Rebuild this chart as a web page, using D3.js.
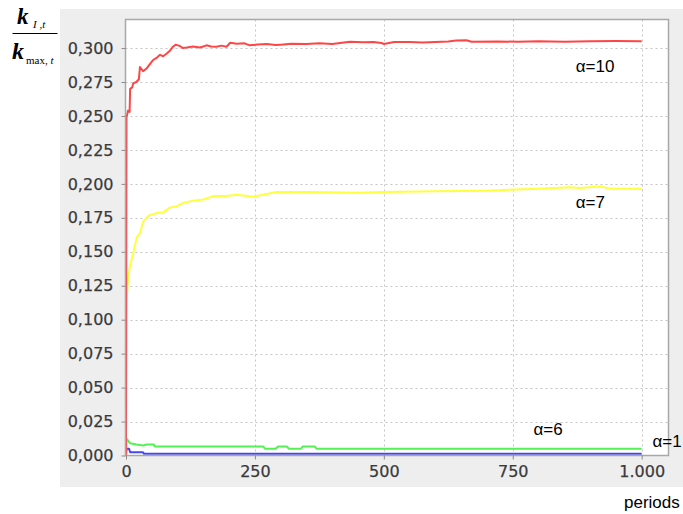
<!DOCTYPE html>
<html>
<head>
<meta charset="utf-8">
<script src="https://cdn.jsdelivr.net/npm/d3@7/dist/d3.min.js"></script>
<style>
  html, body { margin: 0; padding: 0; background: #ffffff; }
  svg { display: block; }
</style>
</head>
<body>
<svg id="chart" width="683" height="514"></svg>
<script>
// Share of the leading agent's capital relative to the maximum, per period
const redPeriods = [0, 1, 4, 7, 8, 12, 14, 20, 25, 27, 33, 40, 46, 52, 60, 66, 72, 79, 85, 91, 96, 101, 106, 110, 118, 130, 143, 150, 156, 165, 175, 185, 195, 202, 215, 230, 240, 255, 273, 290, 300, 320, 350, 375, 400, 434, 460, 480, 495, 500, 520, 550, 575, 600, 625, 640, 660, 670, 720, 760, 800, 850, 900, 950, 1000];
const redValues  = [0, 0.249, 0.254, 0.253, 0.270, 0.271, 0.274, 0.275, 0.277, 0.286, 0.283, 0.285, 0.288, 0.291, 0.293, 0.295, 0.294, 0.296, 0.298, 0.301, 0.3025, 0.302, 0.3012, 0.300, 0.3004, 0.3012, 0.3004, 0.3012, 0.302, 0.3012, 0.301, 0.3018, 0.301, 0.3039, 0.3032, 0.3035, 0.302, 0.3026, 0.303, 0.3022, 0.3025, 0.3031, 0.303, 0.3036, 0.303, 0.3046, 0.3042, 0.3045, 0.3038, 0.303, 0.3045, 0.3045, 0.3041, 0.3045, 0.3049, 0.3055, 0.3058, 0.3047, 0.3049, 0.3046, 0.305, 0.3047, 0.305, 0.3052, 0.305];

const yellowPeriods = [0, 1, 4, 8, 14, 21, 27, 33, 40, 46, 60, 72, 85, 98, 111, 130, 150, 169, 195, 214, 227, 247, 266, 292, 357, 450, 500, 600, 700, 800, 860, 880, 918, 940, 1000];
const yellowValues  = [0, 0.114, 0.130, 0.140, 0.149, 0.161, 0.1635, 0.172, 0.175, 0.177, 0.1785, 0.179, 0.1825, 0.1835, 0.186, 0.1875, 0.1885, 0.191, 0.191, 0.192, 0.1915, 0.1906, 0.192, 0.194, 0.194, 0.1935, 0.194, 0.1945, 0.195, 0.1965, 0.1975, 0.197, 0.198, 0.1965, 0.1965];

const greenPeriods = [0, 1, 4, 8, 20, 33, 40, 54, 56, 266, 270, 290, 295, 312, 316, 339, 343, 366, 370, 1000];
const greenValues  = [0, 0.0125, 0.011, 0.009, 0.0081, 0.0074, 0.0081, 0.0081, 0.0066, 0.0066, 0.0049, 0.0049, 0.0066, 0.0066, 0.0049, 0.0049, 0.0066, 0.0066, 0.0049, 0.0049];

const bluePeriods = [0, 1, 6, 8, 33, 35, 1000];
const blueValues  = [0, 0.0049, 0.0049, 0.0024, 0.0024, 0.0012, 0.0012];

// Axis ticks
const yTicks = [0, 0.025, 0.05, 0.075, 0.1, 0.125, 0.15, 0.175, 0.2, 0.225, 0.25, 0.275, 0.3];
const xTicks = [0, 250, 500, 750, 1000];

// Curve annotations: text, anchor period, anchor value
const labelTexts   = ["α=10", "α=7", "α=6", "α=1"];
const labelPeriods = [872, 872, 790, 1021];
const labelValues  = [0.2823, 0.1822, 0.0151, 0.0063];

const svg = d3.select("#chart");

// Panel background
svg.append("rect")
  .attr("x", 60).attr("y", 9).attr("width", 623).attr("height", 478)
  .attr("fill", "#eeeeee");

const plot = { left: 125.5, right: 668.5, top: 19.5, bottom: 455.5 };

const x = d3.scaleLinear().domain([0, 1052]).range([126, 668.5]);
const y = d3.scaleLinear().domain([0, 0.3214]).range([455.5, 19]);

svg.append("rect")
  .attr("x", plot.left).attr("y", plot.top)
  .attr("width", plot.right - plot.left).attr("height", plot.bottom - plot.top)
  .attr("fill", "#ffffff");

// Grid
const grid = svg.append("g").attr("stroke", "#c4c4c4").attr("stroke-width", 1).attr("stroke-dasharray", "2,3");
grid.selectAll("line.h").data(yTicks.filter(d => d > 0)).join("line")
  .attr("class", "h")
  .attr("x1", plot.left).attr("x2", plot.right)
  .attr("y1", d => Math.round(y(d)) + 0.5).attr("y2", d => Math.round(y(d)) + 0.5);
grid.selectAll("line.v").data(xTicks.filter(d => d > 0)).join("line")
  .attr("class", "v")
  .attr("y1", plot.top).attr("y2", plot.bottom)
  .attr("x1", d => Math.round(x(d)) + 0.5).attr("x2", d => Math.round(x(d)) + 0.5);

// Series
svg.append("clipPath").attr("id", "clip").append("rect")
  .attr("x", plot.left).attr("y", plot.top)
  .attr("width", plot.right - plot.left).attr("height", plot.bottom - plot.top);

const series = [
  { p: bluePeriods, v: blueValues, color: "#4646f0" },
  { p: greenPeriods, v: greenValues, color: "#55f055" },
  { p: yellowPeriods, v: yellowValues, color: "#ffff3c" },
  { p: redPeriods, v: redValues, color: "#ff4646" }
];

const line = d3.line().x(d => x(d[0])).y(d => y(d[1]));
const lines = svg.append("g").attr("clip-path", "url(#clip)");
series.forEach(s => {
  lines.append("path")
    .datum(s.p.map((p, i) => [p, s.v[i]]))
    .attr("fill", "none")
    .attr("stroke", s.color)
    .attr("stroke-width", 2)
    .attr("stroke-linejoin", "round")
    .attr("d", line);
});

// Plot border
svg.append("rect")
  .attr("x", plot.left).attr("y", plot.top)
  .attr("width", plot.right - plot.left).attr("height", plot.bottom - plot.top)
  .attr("fill", "none").attr("stroke", "#a8a8a8").attr("stroke-width", 1.5);

// Axes
const fmtY = v => d3.format(".3f")(v).replace(".", ",");
const fmtX = v => d3.format(",")(v).replace(/,/g, ".");

const yAxis = svg.append("g")
  .attr("transform", `translate(${plot.left},0)`)
  .call(d3.axisLeft(y).tickValues(yTicks).tickFormat(fmtY).tickSize(4).tickPadding(8));
const xAxis = svg.append("g")
  .attr("transform", `translate(0,${plot.bottom})`)
  .call(d3.axisBottom(x).tickValues(xTicks).tickFormat(fmtX).tickSize(4).tickPadding(6));

[yAxis, xAxis].forEach(g => {
  g.select(".domain").remove();
  g.selectAll(".tick line").attr("stroke", "#8a8a8a");
  g.selectAll(".tick text")
    .attr("fill", "#3a3a3a")
    .attr("stroke", "#3a3a3a")
    .attr("stroke-width", 0.25)
    .style("font-family", "'DejaVu Sans', sans-serif")
    .style("font-size", "16px");
});

// Curve labels
svg.append("g").selectAll("text").data(labelTexts).join("text")
  .attr("x", (d, i) => x(labelPeriods[i]))
  .attr("y", (d, i) => y(labelValues[i]))
  .attr("fill", "#000000")
  .style("font-family", "'Liberation Sans', Arial, sans-serif")
  .style("font-size", "17px")
  .text(d => d);

// X axis title
svg.append("text")
  .attr("x", 624).attr("y", 508)
  .attr("fill", "#000000")
  .style("font-family", "'Liberation Sans', Arial, sans-serif")
  .style("font-size", "17px")
  .text("periods");

// Y axis title: k_{I,t} / k_{max,t}
const t = svg.append("g").style("font-family", "'Liberation Serif', 'Times New Roman', serif");
t.append("text").attr("x", 17).attr("y", 24)
  .style("font-size", "23px").style("font-style", "italic").style("font-weight", "bold")
  .text("k");
t.append("text").attr("x", 33).attr("y", 28)
  .style("font-size", "11px").style("font-style", "italic")
  .text("I ,t");
t.append("line").attr("x1", 12.5).attr("x2", 57.5).attr("y1", 33.5).attr("y2", 33.5)
  .attr("stroke", "#000").attr("stroke-width", 1.2);
t.append("text").attr("x", 12).attr("y", 59)
  .style("font-size", "24px").style("font-style", "italic").style("font-weight", "bold")
  .text("k");
const sub = t.append("text").attr("x", 26).attr("y", 64).style("font-size", "11px");
sub.append("tspan").text("max, ");
sub.append("tspan").style("font-style", "italic").text("t");
</script>
</body>
</html>
